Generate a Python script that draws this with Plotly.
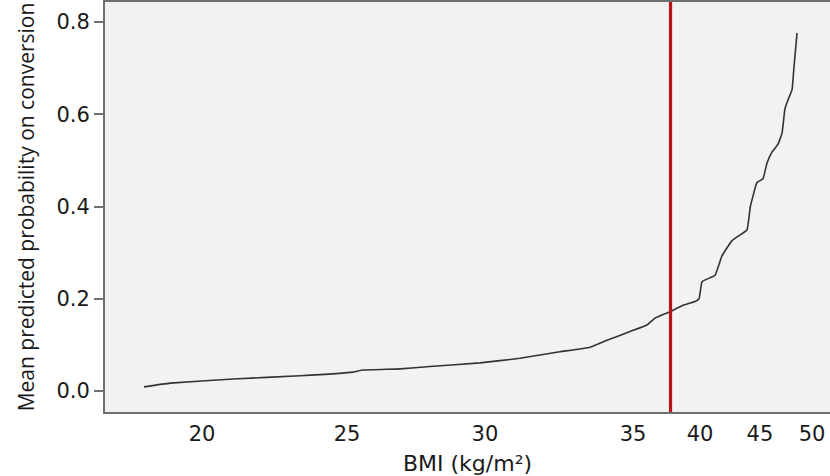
import numpy as np
import plotly.graph_objects as go

# ---- data ----
bmi = [18.0, 18.9, 21.07, 23.38, 25.22, 25.58, 26.92, 28.0, 29.82, 31.18,
       32.53, 33.55, 34.12, 34.9, 36.04, 36.64, 37.76, 38.73, 39.63, 39.93,
       40.17, 41.25, 41.83, 42.67, 43.33, 43.92, 44.2, 44.75, 45.29, 45.67,
       46.15, 46.73, 47.12, 47.4, 47.69, 48.08, 48.27, 48.56]
prob = [0.009, 0.017, 0.026, 0.033, 0.041, 0.0455, 0.048, 0.053, 0.061, 0.071,
        0.085, 0.095, 0.110, 0.129, 0.143, 0.158, 0.172, 0.186, 0.194, 0.200,
        0.237, 0.251, 0.293, 0.326, 0.338, 0.349, 0.400, 0.452, 0.460, 0.494,
        0.518, 0.535, 0.559, 0.612, 0.631, 0.653, 0.703, 0.776]
threshold_bmi = 37.8

tick_bmi = [20, 25, 30, 35, 40, 45, 50]
y_ticks = [0.0, 0.2, 0.4, 0.6, 0.8]

# non-linear (rank-type) BMI axis scale: BMI breakpoints -> axis units (0..100)
scale_bmi = [15, 20, 25, 30, 35, 40, 45, 50, 55]
scale_pos = [-6.62, 13.38, 33.38, 52.41, 72.83, 82.07, 90.34, 97.52, 104.7]


def to_axis(v):
    return np.interp(v, scale_bmi, scale_pos)


fig = go.Figure()
fig.add_trace(go.Scatter(
    x=to_axis(bmi), y=prob, mode="lines",
    line=dict(color="#333333", width=1.6, shape="spline", smoothing=0.3),
    showlegend=False,
))
fig.add_shape(type="line", xref="x", yref="paper",
              x0=float(to_axis(threshold_bmi)), x1=float(to_axis(threshold_bmi)),
              y0=0, y1=1, line=dict(color="#b8141d", width=3.2))

fig.update_layout(
    width=830, height=476,
    margin=dict(l=105, r=0, t=2, b=64),
    paper_bgcolor="white", plot_bgcolor="#f2f2f2",
    showlegend=False,
)
fig.update_xaxes(
    range=[0, 100], automargin=False,
    tickmode="array", tickvals=list(to_axis(tick_bmi)),
    ticktext=[str(t) for t in tick_bmi],
    ticks="outside", ticklen=2, tickcolor="rgba(0,0,0,0)",
    showgrid=False, zeroline=False,
    showline=True, linecolor="#707070", linewidth=2, mirror=True,
    tickfont=dict(family="DejaVu Sans", size=21, color="#1a1a1a"),
    title=dict(text="BMI (kg/m²)", standoff=10,
               font=dict(family="DejaVu Sans", size=22, color="#1a1a1a")),
)
fig.update_yaxes(
    range=[-0.0455, 0.8434], automargin=False,
    tickmode="array", tickvals=y_ticks,
    ticktext=[f"{t:.1f}" for t in y_ticks],
    ticks="outside", ticklen=9, tickcolor="#707070", tickwidth=1.5,
    showgrid=False, zeroline=False,
    showline=True, linecolor="#707070", linewidth=2,
    tickfont=dict(family="DejaVu Sans", size=21, color="#1a1a1a"),
    title=dict(text="Mean predicted probability on conversion", standoff=16,
               font=dict(family="Open Sans", size=21, color="#1a1a1a")),
)

fig.write_html(
    "out.html",
    config={"displayModeBar": False},
    post_script="document.body.style.margin='0';document.body.style.overflow='hidden';",
)
